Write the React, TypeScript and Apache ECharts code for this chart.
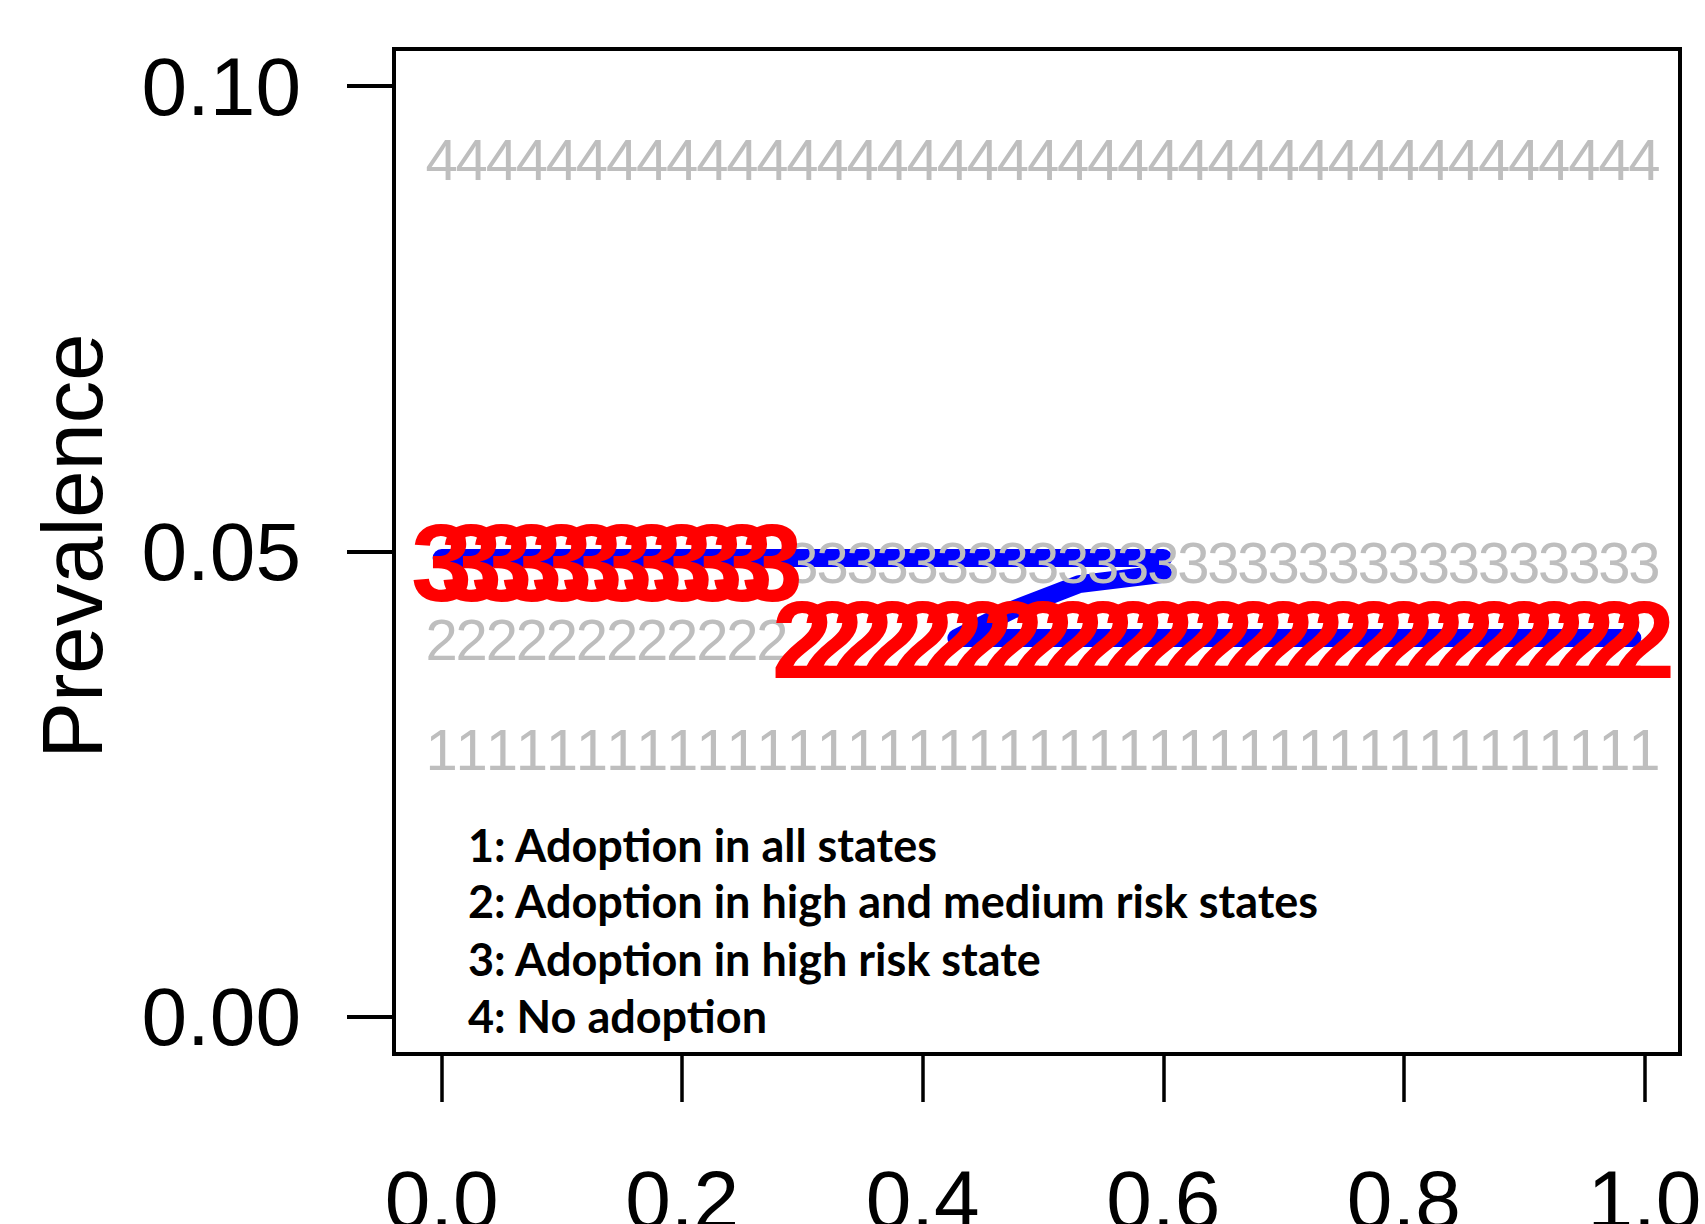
import React, { useEffect, useRef } from "react";
import * as echarts from "echarts";

// x positions where the digit markers are drawn
const xAll = [0, 0.025, 0.05, 0.075, 0.1, 0.125, 0.15, 0.175, 0.2, 0.225, 0.25, 0.275, 0.3, 0.325, 0.35, 0.375, 0.4, 0.425, 0.45, 0.475, 0.5, 0.525, 0.55, 0.575, 0.6, 0.625, 0.65, 0.675, 0.7, 0.725, 0.75, 0.775, 0.8, 0.825, 0.85, 0.875, 0.9, 0.925, 0.95, 0.975, 1.0];
const xLow = [0, 0.025, 0.05, 0.075, 0.1, 0.125, 0.15, 0.175, 0.2, 0.225, 0.25, 0.275];
const xHigh = [0.3, 0.325, 0.35, 0.375, 0.4, 0.425, 0.45, 0.475, 0.5, 0.525, 0.55, 0.575, 0.6, 0.625, 0.65, 0.675, 0.7, 0.725, 0.75, 0.775, 0.8, 0.825, 0.85, 0.875, 0.9, 0.925, 0.95, 0.975, 1.0];

// prevalence of each strategy
const prev1 = 0.0287; // Adoption in all states
const prev2 = 0.0405; // Adoption in high and medium risk states
const prev3 = 0.0488; // Adoption in high risk state
const prev4 = 0.0921; // No adoption

// blue trajectories
const blueUpper: [number, number][] = [[0, 0.0493], [0.6, 0.0493]];
const blueLower: [number, number][] = [[0.6, 0.0476], [0.53, 0.0465], [0.474, 0.0437], [0.428, 0.0407], [0.99, 0.0407]];

const xTicks = [0, 0.2, 0.4, 0.6, 0.8, 1.0];
const yTicks = [0, 0.05, 0.1];

const legendLines = [
  "1: Adoption in all states",
  "2: Adoption in high and medium risk states",
  "3: Adoption in high risk state",
  "4: No adoption",
];

const GRAY = "#bebebe";
const RED = "#ff0000";
const BLUE = "#0000ff";

function digitSeries(xs: number[], y: number, digit: string, color: string, size: number, bold: boolean, z: number) {
  return {
    type: "custom",
    z,
    silent: true,
    data: xs.map((x) => [x, y]),
    renderItem: (params: any, api: any) => {
      const p = api.coord([api.value(0), api.value(1)]);
      return {
        type: "text",
        x: p[0],
        y: p[1],
        style: {
          text: digit,
          fill: color,
          fontSize: size,
          fontFamily: "Liberation Sans, Arial, sans-serif",
          fontWeight: bold ? "bold" : "normal",
          align: "center",
          verticalAlign: "middle",
        },
      };
    },
  };
}

export default function App() {
  const ref = useRef<HTMLDivElement>(null);
  useEffect(() => {
    if (!ref.current) return;
    const chart = echarts.init(ref.current, null, { renderer: "svg" });
    const tickFont = { fontSize: 82, fontFamily: "Liberation Sans, Arial, sans-serif", color: "#000" };
    chart.setOption({
      animation: false,
      backgroundColor: "#ffffff",
      grid: {
        left: 394,
        right: 25,
        top: 49,
        bottom: 170,
        show: true,
        borderColor: "#000",
        borderWidth: 4,
        backgroundColor: "transparent",
        containLabel: false,
        outerBoundsMode: "none",
      },
      xAxis: {
        type: "value",
        min: -0.0396,
        max: 1.0296,
        axisLine: { show: false, onZero: false },
        splitLine: { show: false },
        axisTick: { show: true, customValues: xTicks, length: 48, inside: false, lineStyle: { color: "#000", width: 3.5 } },
        axisLabel: { customValues: xTicks, margin: 104, formatter: (v: number) => v.toFixed(1), ...tickFont },
      },
      yAxis: {
        type: "value",
        min: -0.004,
        max: 0.104,
        axisLine: { show: false, onZero: false },
        splitLine: { show: false },
        axisTick: { show: true, customValues: yTicks, length: 47, inside: false, lineStyle: { color: "#000", width: 4 } },
        axisLabel: { customValues: yTicks, margin: 93, formatter: (v: number) => v.toFixed(2), ...tickFont },
      },
      graphic: [
        {
          type: "text",
          x: 72,
          y: 546,
          rotation: Math.PI / 2,
          style: {
            text: "Prevalence",
            fill: "#000",
            fontSize: 85,
            fontFamily: "Liberation Sans, Arial, sans-serif",
            align: "center",
            verticalAlign: "middle",
          },
        },
        ...legendLines.map((t, i) => ({
          type: "text",
          x: 468,
          y: [845, 901, 959, 1016][i],
          z: 100,
          style: {
            text: t,
            fill: "#000",
            fontSize: 45,
            fontWeight: "bold",
            fontFamily: "Lato, Open Sans, sans-serif",
            align: "left",
            verticalAlign: "middle",
          },
        })),
      ],
      series: [
        {
          type: "line",
          z: 1,
          silent: true,
          showSymbol: false,
          data: blueUpper,
          lineStyle: { color: BLUE, width: 18, cap: "round", join: "round" },
        },
        {
          type: "line",
          z: 1,
          silent: true,
          showSymbol: false,
          data: blueLower,
          lineStyle: { color: BLUE, width: 18, cap: "round", join: "round" },
        },
        digitSeries(xAll, prev4, "4", GRAY, 58, false, 2),
        digitSeries(xHigh, prev3, "3", GRAY, 58, false, 2),
        digitSeries(xLow, prev2, "2", GRAY, 58, false, 2),
        digitSeries(xAll, prev1, "1", GRAY, 58, false, 2),
        digitSeries(xLow, prev3, "3", RED, 110, true, 3),
        digitSeries(xHigh, prev2, "2", RED, 110, true, 3),
      ],
    });
    return () => chart.dispose();
  }, []);
  return <div ref={ref} style={{ position: "fixed", left: 0, top: 0, width: 1705, height: 1224, background: "#fff" }} />;
}
